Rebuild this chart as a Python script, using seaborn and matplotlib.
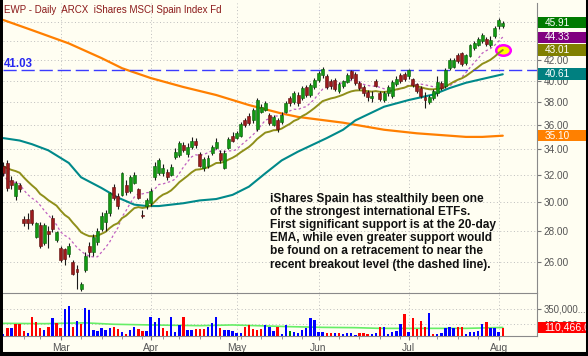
import numpy as np
import pandas as pd
import seaborn as sns
import matplotlib
matplotlib.use("Agg")
import matplotlib.pyplot as plt
from matplotlib.path import Path
from matplotlib.lines import Line2D
from matplotlib.patches import Rectangle
from matplotlib.transforms import IdentityTransform
from matplotlib.ticker import FixedLocator, FixedFormatter, FuncFormatter, NullLocator

# trading days on the chart (Feb 9 - Aug 4 2009), market holidays dropped
holidays = pd.to_datetime(["2009-02-16", "2009-04-10", "2009-05-25", "2009-07-03"])
dates = pd.bdate_range("2009-02-09", "2009-08-04").drop(holidays)

opens = [32.7, 32.9, 31.6, 30.4, 31.2, 28.8, 28.8, 29.4, 27.6, 28.4,
         27.2, 28.0, 28.9, 27.4, 26.9, 26.8, 26.5, 26.0, 25.6, 24.4,
         25.5, 27.0, 26.6, 27.3, 28.1, 28.6, 29.2, 31.1, 30.4, 30.5,
         31.2, 30.8, 31.4, 30.9, 29.1, 29.7, 29.9, 31.8, 32.1, 32.1,
         32.2, 32.0, 33.4, 33.5, 34.3, 33.6, 34.2, 34.7, 33.6, 32.5,
         32.7, 33.7, 34.1, 33.7, 32.5, 34.1, 35.1, 34.9, 35.1, 36.4,
         36.8, 36.4, 35.7, 37.1, 37.3, 36.9, 36.0, 36.4, 36.3, 37.1,
         38.4, 38.0, 38.7, 38.4, 39.4, 38.7, 39.4, 40.1, 40.5, 40.4,
         40.0, 40.1, 39.0, 39.5, 39.9, 40.9, 40.6, 39.8, 39.4, 38.9,
         38.4, 40.0, 38.8, 38.2, 38.8, 38.6, 39.7, 40.5, 40.6, 40.4,
         40.2, 39.7, 39.3, 38.5, 38.0, 38.4, 38.8, 39.8, 39.5, 41.2,
         41.3, 42.5, 42.7, 41.7, 42.4, 43.2, 43.5, 43.9, 44.2, 43.5,
         44.5, 45.5, 45.5]
highs = [33.0, 33.1, 31.9, 31.5, 31.4, 29.0, 29.2, 29.5, 28.6, 28.6,
         28.5, 28.3, 29.1, 28.0, 27.0, 26.9, 27.2, 26.1, 25.8, 24.8,
         26.6, 27.3, 27.8, 28.2, 29.3, 29.4, 30.7, 31.3, 30.6, 32.2,
         31.6, 32.0, 32.2, 31.0, 29.4, 30.3, 31.0, 33.0, 33.3, 32.8,
         32.4, 32.8, 34.1, 34.7, 34.6, 34.5, 35.0, 34.9, 33.8, 33.4,
         33.5, 34.3, 34.9, 33.9, 33.9, 35.0, 35.4, 35.5, 36.3, 36.6,
         37.0, 37.5, 38.4, 37.8, 38.1, 37.0, 36.9, 36.6, 37.1, 38.1,
         38.6, 39.0, 38.9, 39.5, 39.6, 39.8, 40.3, 40.9, 41.3, 40.6,
         40.2, 40.3, 39.9, 40.1, 40.7, 41.0, 40.8, 40.0, 39.6, 39.1,
         39.0, 40.2, 39.0, 39.0, 39.6, 40.1, 40.4, 40.7, 40.8, 41.1,
         40.3, 39.8, 39.5, 38.9, 38.7, 39.2, 40.4, 40.0, 41.2, 42.2,
         42.2, 42.7, 42.8, 42.6, 43.6, 43.9, 44.4, 44.8, 44.4, 44.5,
         45.5, 46.4, 46.1]
lows = [31.9, 30.8, 30.9, 30.1, 30.7, 28.3, 28.1, 28.4, 27.5, 26.9,
        27.1, 26.9, 27.9, 27.3, 26.0, 25.8, 26.3, 25.2, 24.4, 24.3,
        25.4, 26.3, 26.4, 27.1, 28.0, 28.0, 29.0, 30.1, 29.5, 30.4,
        30.5, 30.6, 31.3, 30.2, 28.9, 29.5, 29.7, 31.6, 32.0, 31.9,
        31.6, 31.9, 33.2, 33.4, 33.8, 33.4, 34.0, 34.1, 32.6, 32.3,
        32.5, 33.5, 34.0, 32.9, 32.4, 34.0, 34.6, 34.8, 35.0, 35.8,
        36.0, 36.2, 35.5, 37.0, 37.2, 36.0, 35.9, 35.4, 36.1, 37.0,
        37.7, 37.8, 37.7, 38.2, 38.5, 38.5, 39.2, 39.9, 40.3, 39.2,
        39.2, 39.0, 38.8, 39.3, 39.8, 40.1, 39.6, 39.1, 38.6, 38.1,
        38.0, 39.4, 38.1, 38.0, 38.6, 38.4, 39.5, 39.8, 40.0, 40.2,
        39.4, 38.8, 38.4, 37.5, 37.8, 38.2, 38.6, 39.1, 39.3, 41.0,
        41.2, 41.7, 41.4, 41.5, 42.3, 43.0, 43.4, 43.7, 43.4, 43.3,
        44.3, 45.2, 45.3]
closes = [32.1, 31.0, 31.2, 31.4, 30.9, 28.5, 28.5, 28.5, 28.5, 27.0,
          28.4, 27.8, 28.1, 27.9, 26.1, 26.2, 27.0, 25.3, 25.4, 24.7,
          26.4, 26.6, 27.6, 28.0, 29.0, 29.2, 30.6, 30.3, 29.7, 32.1,
          30.7, 31.8, 32.0, 30.3, 29.0, 30.1, 30.8, 32.7, 33.1, 32.5,
          31.8, 32.6, 33.8, 34.5, 33.9, 34.2, 34.7, 34.3, 32.7, 33.2,
          33.3, 34.2, 34.6, 33.1, 33.7, 34.8, 34.7, 35.3, 36.1, 36.0,
          36.2, 37.3, 38.2, 37.6, 37.9, 36.2, 36.7, 35.7, 36.9, 37.9,
          37.9, 38.8, 37.9, 39.3, 38.7, 39.6, 40.1, 40.7, 41.1, 39.4,
          39.5, 39.2, 39.7, 40.0, 40.5, 40.3, 39.8, 39.3, 38.8, 38.5,
          38.6, 39.5, 38.3, 38.8, 39.4, 39.9, 40.2, 40.0, 40.2, 41.0,
          39.6, 39.0, 38.6, 38.2, 38.5, 39.0, 39.9, 39.3, 41.0, 42.0,
          42.0, 41.9, 41.6, 42.5, 43.5, 43.7, 44.2, 44.6, 43.6, 44.1,
          45.3, 46.2, 45.91]

# daily volume in thousands of shares, and bar colour key (b up, r down, g flat)
volume_k = [22, 108, 99, 151, 151, 65, 35, 246, 177, 108,
            78, 121, 229, 164, 108, 350, 389, 112, 194, 151,
            359, 337, 78, 65, 99, 78, 99, 112, 86, 56,
            26, 78, 121, 86, 65, 69, 251, 186, 229, 108,
            69, 242, 56, 143, 251, 78, 78, 91, 91, 91,
            121, 164, 242, 99, 78, 78, 65, 35, 35, 112,
            143, 91, 78, 91, 143, 121, 69, 112, 22, 143,
            65, 56, 35, 78, 99, 229, 207, 48, 48, 35,
            35, 43, 35, 22, 43, 43, 13, 35, 35, 26,
            22, 35, 121, 121, 22, 56, 65, 151, 281, 56,
            229, 91, 194, 121, 294, 22, 26, 35, 99, 121,
            108, 121, 121, 22, 48, 48, 65, 151, 177, 108,
            108, 56, 99]
vol_dir = list("brbrrrbrrr" "brbrrbbrbr" "bbbbbbbrrb" "rbbrrbbbbr" "rbbbrbbrrr"
               "bbbrbbbbbr" "rrrrbbbrbb" "gbb"
               "bbbbbbrrbr" "bbbbrrrbbr" "bbbbbrbrrr" "rbrbbbbbrr" "bbbbbrbbbr")

# long moving averages at sample days (day index, value)
sma200_idx = [0, 7, 16, 24, 29, 36, 44, 52, 60, 68, 72, 83, 93, 101, 109, 113, 117, 122]
sma200_val = [46.2, 45.1, 43.7, 42.2, 41.2, 40.25, 39.4, 38.66, 37.75, 37.0, 36.7,
              36.2, 35.6, 35.3, 35.1, 35.0, 35.0, 35.1]
sma50_idx = [0, 4, 7, 11, 16, 19, 24, 28, 32, 35, 38, 44, 48, 52, 56, 60, 64, 68, 72,
             79, 83, 86, 93, 99, 105, 109, 113, 118, 122]
sma50_val = [34.9, 34.7, 34.4, 33.9, 32.9, 31.8, 31.0, 30.3, 29.8, 29.7, 29.7, 29.9,
             30.1, 30.2, 30.5, 31.1, 32.1, 33.1, 33.8, 34.9, 35.6, 36.4, 37.6, 38.2,
             38.7, 39.3, 39.8, 40.25, 40.61]
vol_ma_idx = [0, 10, 20, 27, 36, 48, 56, 70, 78, 86, 92, 100, 113, 122]
vol_ma_k = [164, 160, 170, 152, 143, 134, 143, 121, 112, 108, 99, 99, 99, 110.466]
ema20_seed = 32.7

breakout = 41.03
tag_values = [45.91, 44.33, 43.01, 40.61, 35.10]
tag_texts = ["45.91", "44.33", "43.01", "40.61", "35.10"]
vol_tag_value = 110466
vol_tag_text = "110,466.0"

title = "EWP - Daily  ARCX  iShares MSCI Spain Index Fd"
note_lines = ["iShares Spain has stealthily been one",
              "of the strongest international ETFs.",
              "First significant support is at the 20-day",
              "EMA, while even greater support would",
              "be found on a retracement to near the",
              "recent breakout level (the dashed line)."]

# ---- derived series
n = len(dates)
x = np.arange(n)
o = np.array(opens)
c = np.array(closes)
h = np.array(highs)
l = np.array(lows)
close_s = pd.Series(closes)
ema20 = pd.concat([pd.Series([ema20_seed]), close_s], ignore_index=True).ewm(span=20, adjust=False).mean().iloc[1:].to_numpy()
sma10 = close_s.rolling(10, min_periods=1).mean().to_numpy()

month_idx = [i for i in range(1, n) if dates[i].month != dates[i - 1].month]
month_lbl = [dates[i].strftime("%b") for i in month_idx]
week_idx = [i for i in range(1, n) if dates[i].isocalendar()[1] != dates[i - 1].isocalendar()[1]]

sns.set_theme(style="white")
plt.rcParams["font.family"] = ["Liberation Sans", "DejaVu Sans"]

bg = "#FFFEF2"
W, H = 588, 356


def px_box(x0, y0, x1, y1):
    return [x0 / W, 1 - y1 / H, (x1 - x0) / W, (y1 - y0) / H]


fig = plt.figure(figsize=(W / 100, H / 100), dpi=100, facecolor=bg)
ax = fig.add_axes(px_box(3, 3, 537, 293), facecolor=bg)
axv = fig.add_axes(px_box(3, 293, 537, 336), facecolor=bg, sharex=ax)

grid_kw = dict(color="#BDBDBD", lw=0.7, linestyle=(0, (1, 2.5)))

# ---- price panel
ax.set_yscale("log")
sns.lineplot(x=sma200_idx, y=sma200_val, ax=ax, color="#FF7F00", lw=1.6, zorder=2)
sns.lineplot(x=sma50_idx, y=sma50_val, ax=ax, color="#00898A", lw=1.5, zorder=2)
sns.lineplot(x=x, y=sma10, ax=ax, color="#C060C0", lw=0.9, zorder=2)
ax.lines[-1].set_dashes([2, 2])
sns.lineplot(x=x, y=ema20, ax=ax, color="#8F8F1A", lw=1.4, zorder=2.1)

circle = Path.unit_circle()
oval = Path(circle.vertices * [1.0, 0.72], circle.codes)
ax.scatter([x[-1]], [ema20[-1]], marker=oval, s=110, facecolor="#FFFF00",
           edgecolor="#FF00FF", linewidths=1.8, zorder=1.9)

ax.axhline(breakout, color="#3B3BFF", lw=1.0, dashes=(9.5, 3.5), zorder=2.2)

up = c >= o
body_lo = np.minimum(o, c)
body_hi = np.maximum(np.maximum(o, c), body_lo * 1.003)
ax.vlines(x, l, h, color="#1a1a1a", lw=0.8, zorder=3)
ax.bar(x, body_hi - body_lo, bottom=body_lo, width=0.72,
       color=np.where(up, "#129912", "#9B1B1B"),
       edgecolor=np.where(up, "#0B5E0B", "#5A0D0D"), lw=0.4, zorder=4)

ax.set_ylim(24.16, 48.1)
ax.yaxis.set_major_locator(FixedLocator(np.arange(26, 47, 2)))
ax.yaxis.set_minor_locator(NullLocator())
# 44.00 and 46.00 sit under the value tags, so only their grid lines show
ax.yaxis.set_major_formatter(FuncFormatter(lambda v, p: f"{v:.2f}" if v < 43 else ""))
ax.yaxis.tick_right()
ax.tick_params(axis="y", which="major", right=True, left=False, labelright=True, labelleft=False,
               length=3, width=0.8, color="#777777", labelcolor="#555555", labelsize=7.2, pad=1.5)
ax.tick_params(axis="x", which="both", length=0, labelbottom=False)
ax.grid(True, which="major", **grid_kw)
for side in ["left", "top", "bottom"]:
    ax.spines[side].set_visible(False)
ax.spines["right"].set_color("#8A8A8A")
ax.spines["right"].set_linewidth(0.8)
ax.set_xlabel("")
ax.set_ylabel("")

tag_tf = ax.get_yaxis_transform()
ax.annotate(f"{breakout:.2f}", xy=(0, breakout), xycoords=tag_tf, xytext=(0.5, 1.8),
            textcoords="offset points", ha="left", va="baseline", fontsize=8.3,
            fontweight="bold", color="#2626F0", zorder=6)

# ---- volume panel
vol_df = pd.DataFrame({"day": x, "volume": np.array(volume_k) * 1000, "dir": vol_dir})
sns.barplot(data=vol_df, x="day", y="volume", hue="dir",
            palette={"b": "#0000FF", "r": "#FF0000", "g": "#008800"},
            dodge=False, native_scale=True, width=0.58, saturation=1,
            errorbar=None, legend=False, linewidth=0, ax=axv, zorder=3)
sns.lineplot(x=vol_ma_idx, y=np.array(vol_ma_k) * 1000, ax=axv, color="#66EE66", lw=1.2, zorder=2)

axv.set_ylim(0, 557000)
axv.yaxis.set_major_locator(FixedLocator([150000, 350000]))
axv.yaxis.set_major_formatter(FixedFormatter(["150,000", "350,000..."]))
axv.yaxis.tick_right()
axv.tick_params(axis="y", right=True, left=False, labelright=True, labelleft=False,
                length=3, width=0.8, color="#777777", labelcolor="#555555", labelsize=6.9, pad=1.5)
axv.set_xlim(-0.07, 130.36)
axv.set_xticks(month_idx)
axv.set_xticklabels(month_lbl)
axv.set_xticks(week_idx, minor=True)
axv.tick_params(axis="x", which="major", bottom=True, length=3, width=0.8, color="#777777",
                labelcolor="#555555", labelsize=7.4, pad=2)
axv.tick_params(axis="x", which="minor", bottom=True, length=2, width=0.6, color="#888888")
axv.grid(True, which="major", **grid_kw)
axv.spines["left"].set_visible(False)
for side in ["top", "right", "bottom"]:
    axv.spines[side].set_color("#8A8A8A")
    axv.spines[side].set_linewidth(0.8)
axv.set_xlabel("")
axv.set_ylabel("")

# ---- last-value tags in the right margin
tag_colors = ["#007A00", "#800080", "#808000", "#008080", "#FF8000"]
tags = [(ax, v, t, col, 7.2) for v, t, col in zip(tag_values, tag_texts, tag_colors)]
tags.append((axv, vol_tag_value, vol_tag_text, "#FF0000", 7.6))
for a, val, txt, col, fs in tags:
    ypix = a.transData.transform((0, val))[1]
    fig.add_artist(Rectangle((538, ypix - 5.8), 52, 11.6, transform=IdentityTransform(),
                             fc=col, ec="none", zorder=9))
    fig.text(544.5 / W, ypix / H, txt, ha="left", va="center", fontsize=fs,
             color="white", zorder=10)

# ---- texts and frame
fig.text(4 / W, 1 - 13 / H, title, ha="left", va="baseline", fontsize=7, color="#8B1A1A")
for k, line in enumerate(note_lines):
    fig.text(270 / W, 1 - (201.7 + 13.2 * k) / H, line, ha="left", va="baseline",
             fontsize=8.6, fontweight="bold", color="#111111")

for xs, ys, lw in [([0, 0], [0, 1], 4.3), ([0, 1], [0, 0], 5.8), ([1, 1], [0, 1], 2.9)]:
    fig.add_artist(Line2D(xs, ys, transform=fig.transFigure, color="black", lw=lw, zorder=12))

fig.savefig("out.png", dpi=100, facecolor=bg)
